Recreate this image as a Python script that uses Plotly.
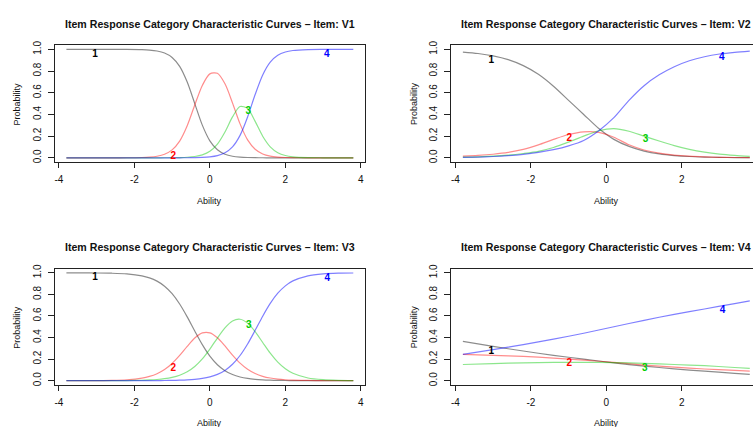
import plotly.graph_objects as go

# ---------------- data ----------------
X_13 = [-3.8, -3.4, -3.0, -2.6, -2.2, -1.8, -1.6, -1.4, -1.2, -1.0, -0.8, -0.6, -0.4, -0.2, 0.0,
        0.2, 0.4, 0.6, 0.8, 1.0, 1.2, 1.4, 1.6, 1.8, 2.0, 2.2, 2.6, 3.0, 3.4, 3.8]

V1_C1 = [1.0, 1.0, 1.0, 0.9999, 0.9995, 0.9972, 0.9936, 0.9852, 0.9664, 0.9255, 0.843, 0.6984, 0.5, 0.3016, 0.157,
         0.0745, 0.0336, 0.0148, 0.0064, 0.0028, 0.0012, 0.0005, 0.0002, 0.0001, 0.0, 0.0, 0.0, 0.0, 0.0, 0.0]
V1_C2 = [0.0, 0.0, 0.0, 0.0001, 0.0005, 0.0028, 0.0064, 0.0146, 0.0331, 0.0734, 0.1544, 0.2957, 0.4864, 0.6674, 0.7741,
         0.7792, 0.6822, 0.5062, 0.3131, 0.1657, 0.0793, 0.0359, 0.0158, 0.0069, 0.003, 0.0013, 0.0003, 0.0001, 0.0, 0.0]
V1_C3 = [0.0, 0.0, 0.0, 0.0, 0.0, 0.0, 0.0, 0.0002, 0.0005, 0.001, 0.0023, 0.0052, 0.0119, 0.0271, 0.0599,
         0.1258, 0.2378, 0.3778, 0.4736, 0.4549, 0.3363, 0.1994, 0.1015, 0.0474, 0.0212, 0.0093, 0.0019, 0.0004, 0.0001, 0.0]
V1_C4 = [0.0, 0.0, 0.0, 0.0, 0.0, 0.0, 0.0, 0.0, 0.0001, 0.0001, 0.0003, 0.0007, 0.0017, 0.0039, 0.009,
         0.0205, 0.0464, 0.1012, 0.2069, 0.3766, 0.5832, 0.7642, 0.8825, 0.9456, 0.9758, 0.9894, 0.9978, 0.9995, 0.9999, 1.0]

V3_C1 = [0.9999, 0.9996, 0.9988, 0.9966, 0.9901, 0.9721, 0.9535, 0.9234, 0.8765, 0.807, 0.711, 0.5915, 0.4603, 0.3343, 0.2281,
         0.1482, 0.0929, 0.0569, 0.0343, 0.0205, 0.0122, 0.0072, 0.0042, 0.0025, 0.0015, 0.0009, 0.0003, 0.0001, 0.0, 0.0]
V3_C2 = [0.0001, 0.0003, 0.001, 0.0029, 0.0085, 0.0238, 0.0395, 0.0648, 0.1037, 0.1598, 0.2338, 0.3182, 0.3954, 0.443, 0.4435,
         0.398, 0.3218, 0.2374, 0.1628, 0.1057, 0.0662, 0.0405, 0.0245, 0.0146, 0.0086, 0.0051, 0.0018, 0.0006, 0.0003, 0.0001]
V3_C3 = [0.0, 0.0001, 0.0002, 0.0005, 0.0013, 0.0038, 0.0065, 0.0109, 0.0183, 0.0306, 0.0508, 0.0829, 0.1318, 0.2017, 0.2932,
         0.3954, 0.49, 0.5537, 0.5696, 0.5336, 0.4547, 0.3542, 0.2547, 0.1717, 0.1104, 0.0687, 0.0251, 0.0089, 0.003, 0.0011]
V3_C4 = [0.0, 0.0, 0.0, 0.0, 0.0001, 0.0003, 0.0005, 0.0009, 0.0015, 0.0026, 0.0044, 0.0074, 0.0125, 0.021, 0.0352,
         0.0584, 0.0953, 0.152, 0.2333, 0.3402, 0.4669, 0.5981, 0.7166, 0.8112, 0.8795, 0.9253, 0.9728, 0.9904, 0.9967, 0.9988]

X_2 = [-3.8, -3.4, -3.0, -2.6, -2.2, -1.8, -1.4, -1.0, -0.6, -0.2, 0.2, 0.6, 1.0, 1.4, 1.8, 2.2, 2.6, 3.0, 3.4, 3.8]
V2_C1 = [0.975, 0.962, 0.94, 0.905, 0.85, 0.77, 0.66, 0.53, 0.40, 0.27, 0.17, 0.105, 0.062, 0.036, 0.021, 0.012, 0.007, 0.004, 0.002, 0.001]
V2_C2 = [0.015, 0.022, 0.033, 0.05, 0.078, 0.12, 0.17, 0.215, 0.24, 0.235, 0.19, 0.12, 0.072, 0.043, 0.025, 0.015, 0.009, 0.005, 0.003, 0.002]
V2_C3 = [0.006, 0.009, 0.015, 0.025, 0.04, 0.06, 0.095, 0.145, 0.2, 0.25, 0.27, 0.245, 0.2, 0.155, 0.113, 0.078, 0.052, 0.034, 0.022, 0.013]
V2_C4 = [0.004, 0.007, 0.012, 0.02, 0.032, 0.05, 0.075, 0.11, 0.16, 0.25, 0.37, 0.53, 0.665, 0.765, 0.84, 0.895, 0.932, 0.957, 0.973, 0.984]

X_4 = [-3.8, -3.0, -2.2, -1.4, -0.6, 0.2, 1.0, 1.8, 2.6, 3.4, 3.8]
V4_C1 = [0.365, 0.318, 0.275, 0.235, 0.2, 0.165, 0.135, 0.11, 0.088, 0.068, 0.058]
V4_C2 = [0.243, 0.235, 0.225, 0.21, 0.19, 0.17, 0.145, 0.125, 0.108, 0.095, 0.088]
V4_C3 = [0.150, 0.159, 0.165, 0.17, 0.17, 0.168, 0.16, 0.15, 0.139, 0.122, 0.114]
V4_C4 = [0.244, 0.288, 0.335, 0.385, 0.44, 0.50, 0.56, 0.615, 0.665, 0.715, 0.74]

CATEGORY_LABELS = ["1", "2", "3", "4"]
V1_LAB_X = [-3.04, -0.97, 1.02, 3.1]
V1_LAB_Y = [0.95, 0.01, 0.43, 0.95]
V2_LAB_X = [-3.05, -0.98, 1.04, 3.06]
V2_LAB_Y = [0.90, 0.18, 0.166, 0.923]
V3_LAB_X = [-3.04, -0.97, 1.03, 3.11]
V3_LAB_Y = [0.954, 0.116, 0.512, 0.948]
V4_LAB_X = [-3.05, -0.98, 1.02, 3.08]
V4_LAB_Y = [0.274, 0.155, 0.116, 0.65]

ITEMS = ["V1", "V2", "V3", "V4"]
Y_TICKS = [0.0, 0.2, 0.4, 0.6, 0.8, 1.0]
X_TICKS = [-4, -2, 0, 2, 4]
X_TICKTEXT = ["-4", "-2", "0", "2", "4"]

# ---------------- figure ----------------
W, H = 753, 427
FONT = "Liberation Sans, Arial, Helvetica, sans-serif"
LINE_COLORS = ["rgba(0,0,0,0.45)", "rgba(255,0,0,0.45)", "rgba(0,200,0,0.45)", "rgba(0,0,255,0.5)"]
LABEL_COLORS = ["#000000", "#ff0000", "#00cd00", "#0000ff"]

panels = [
    dict(x=X_13, ys=[V1_C1, V1_C2, V1_C3, V1_C4], lx=V1_LAB_X, ly=V1_LAB_Y),
    dict(x=X_2, ys=[V2_C1, V2_C2, V2_C3, V2_C4], lx=V2_LAB_X, ly=V2_LAB_Y),
    dict(x=X_13, ys=[V3_C1, V3_C2, V3_C3, V3_C4], lx=V3_LAB_X, ly=V3_LAB_Y),
    dict(x=X_4, ys=[V4_C1, V4_C2, V4_C3, V4_C4], lx=V4_LAB_X, ly=V4_LAB_Y),
]

# pixel geometry of plot boxes (left, right, top, bottom)
PX_PER_UNIT = 37.8
boxes = [
    (54.0, 364.3, 40.6, 159.4),
    (451.0, 753.0, 40.6, 159.4),
    (54.0, 364.3, 267.3, 385.4),
    (451.0, 753.0, 267.3, 385.4),
]

fig = go.Figure()
layout = dict(width=W, height=H, margin=dict(l=0, r=0, t=0, b=0),
              paper_bgcolor="white", plot_bgcolor="white", showlegend=False,
              font=dict(family=FONT, color="#000"))
annotations = []

for i, (p, box) in enumerate(zip(panels, boxes)):
    n = "" if i == 0 else str(i + 1)
    xa, ya = "x" + n, "y" + n
    l, r, t, b = box
    right_cut = (r >= W)
    xmin = -4.104
    xmax = xmin + (r - l) / PX_PER_UNIT
    for k in range(4):
        fig.add_trace(go.Scatter(x=p["x"], y=p["ys"][k], mode="lines", xaxis=xa, yaxis=ya,
                                 line=dict(color=LINE_COLORS[k], width=1.2, shape="spline", smoothing=0.8),
                                 hoverinfo="skip"))
    fig.add_trace(go.Scatter(x=p["lx"], y=p["ly"], mode="text", text=CATEGORY_LABELS, xaxis=xa, yaxis=ya,
                             textfont=dict(family=FONT, size=10, color=LABEL_COLORS, weight="bold"),
                             textposition="middle center", hoverinfo="skip"))
    layout["xaxis" + n] = dict(domain=[l / W, r / W], range=[xmin, xmax], anchor=ya,
                               showgrid=False, zeroline=False, showline=True, mirror=True,
                               linecolor="#222", linewidth=1, ticks="outside", ticklen=5,
                               tickcolor="#222", tickvals=X_TICKS, ticktext=X_TICKTEXT,
                               tickfont=dict(size=10, family=FONT, color="#111"),
                               ticklabelstandoff=3)
    layout["yaxis" + n] = dict(domain=[1 - b / H, 1 - t / H], range=[-0.04, 1.04], anchor=xa,
                               showgrid=False, zeroline=False, showline=True, mirror=not right_cut,
                               linecolor="#222", linewidth=1, ticks="outside", ticklen=6,
                               tickcolor="#222", tickvals=Y_TICKS, tickformat=".1f",
                               tickangle=-90, tickfont=dict(size=10, family=FONT, color="#111"),
                               ticklabelstandoff=3)
    cx = (l + (l + 8.208 * PX_PER_UNIT)) / 2
    title_y = 19 if t < 200 else 245.7
    abil_y = 199 if t < 200 else 424.3
    prob_x = 16 if l < 200 else 413
    annotations.append(dict(text="Item Response Category Characteristic Curves \u2013 Item: " + ITEMS[i],
                            x=cx / W, y=1 - title_y / H, xref="paper", yref="paper",
                            xanchor="center", yanchor="middle", showarrow=False,
                            font=dict(family=FONT, size=10.6, color="#111", weight="bold")))
    annotations.append(dict(text="Ability", x=cx / W, y=1 - abil_y / H, xref="paper", yref="paper",
                            xanchor="center", yanchor="middle", showarrow=False,
                            font=dict(family=FONT, size=9, color="#111")))
    annotations.append(dict(text="Probability", x=prob_x / W, y=1 - ((t + b) / 2) / H,
                            xref="paper", yref="paper", xanchor="center", yanchor="middle",
                            textangle=-90, showarrow=False,
                            font=dict(family=FONT, size=9, color="#111")))

layout["annotations"] = annotations
fig.update_layout(**layout)
fig.write_html("out.html")
